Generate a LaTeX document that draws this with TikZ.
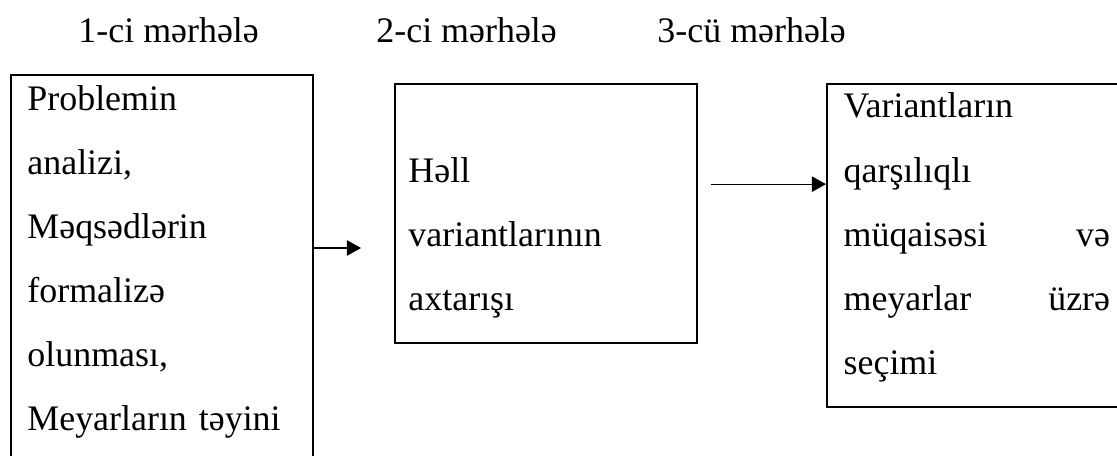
\documentclass[tikz,border=0pt]{standalone}
\usepackage{fontspec}
\setmainfont{Liberation Serif}
\usepackage{tikz}
\usetikzlibrary{arrows.meta}

\begin{document}
\begin{tikzpicture}[>={Triangle[length=5.5pt,width=6pt]},
  font=\fontsize{14pt}{25pt}\selectfont,
  box/.style={draw,line width=0.8pt,minimum width=117.8pt,inner sep=0pt},
  txt/.style={anchor=base west,inner sep=0pt,align=left},
  every edge/.style={draw,line width=0.45pt}]
  \useasboundingbox (0pt,0pt) rectangle (435.6pt,-177.8pt);
  \clip (0pt,0pt) rectangle (435.6pt,-177.8pt);
  % headers
  \draw (30.4pt, -16.4pt)node[txt](h1){1-ci mərhələ};
  \draw (146.6pt, -16.4pt)node[txt](h2){2-ci mərhələ};
  \draw (256.2pt, -16.4pt)node[txt](h3){3-cü mərhələ};
  % boxes
  \draw (63.2pt, -112.1pt)node[box,minimum height=165.8pt](b1){};
  \draw (212.9pt, -83.3pt)node[box,minimum height=101.0pt](b2){};
  \draw (381.4pt, -95.7pt)node[box,minimum height=126.0pt](b3){};
  % box texts
  \draw (10.5pt, -42.9pt)node[txt,text width=104pt](t1){Problemin\\ analizi,\\ Məqsədlərin\\ formalizə\\ olunması,\\ Meyarların təyini};
  \draw (159.1pt, -71.0pt)node[txt,text width=104pt](t2){Həll\\ variantlarının\\ axtarışı};
  \draw (328.8pt, -46.0pt)node[txt,text width=103.9pt](t3){Variantların\\ qarşılıqlı\\ müqaisəsi\hfill və\\ meyarlar\hfill üzrə\\ seçimi};
  % free arrow ends
  \coordinate (a) at (140.8pt, -96.7pt);
  \coordinate (c) at (277.3pt, -71.8pt);
  \path[->] (b1.east |- a) edge (a);
  \path[->] (c) edge (b3.west |- c);
\end{tikzpicture}
\end{document}
